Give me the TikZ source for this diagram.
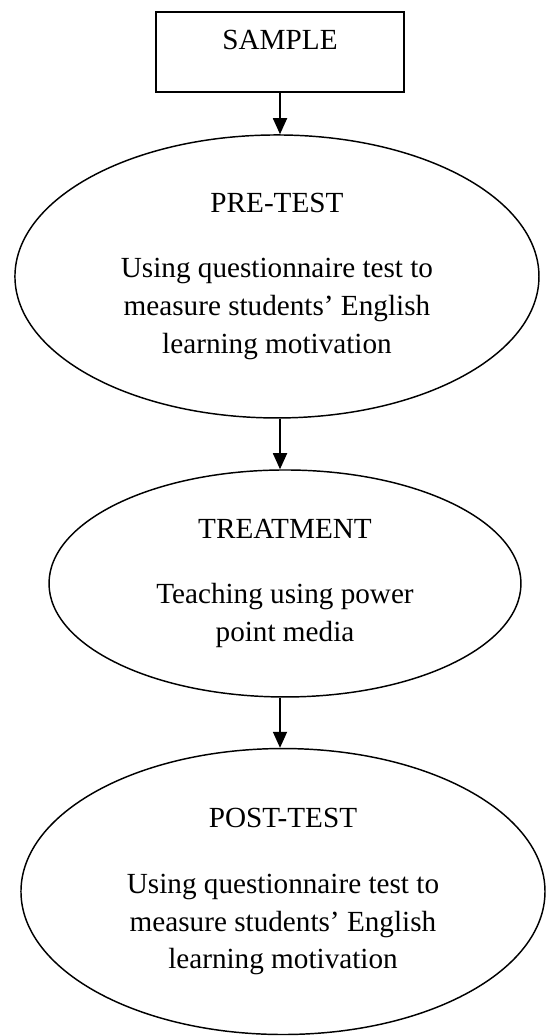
\documentclass[tikz,border=0pt]{standalone}
\usepackage{fontspec}
\setmainfont{Liberation Serif}
\usepackage{tikz}
\usetikzlibrary{shapes.geometric}
\usetikzlibrary{arrows.meta}

\begin{document}
\begin{tikzpicture}[
		box/.style={shape=rectangle, draw, line width=0.7pt, inner sep=0pt},
		oval/.style={shape=ellipse, draw, line width=0.6pt, inner sep=0pt, align=center},
		flow/.style={line width=0.6pt, -{Triangle[length=6.6pt, width=5.8pt]}},
		font=\fontsize{12pt}{15.6pt}\selectfont]
		% Frame, nodes and arrows:
		\useasboundingbox (0, 0) rectangle (7.887, 14.966);
		\node[box, minimum width=3.583cm, text height=0.549cm, text depth=0.607cm](N1) at (4.045, 14.215){SAMPLE};
		\node[oval, minimum width=7.570cm, minimum height=4.088cm](N2) at (4.001, 10.972){PRE-TEST\\[11.5pt] Using questionnaire test to\\ measure students’ English\\ learning motivation};
		\node[oval, minimum width=6.818cm, minimum height=3.279cm](N3) at (4.117, 6.537){TREATMENT\\[11.5pt] Teaching using power\\ point media};
		\node[oval, minimum width=7.570cm, minimum height=4.131cm](N4) at (4.088, 2.087){POST-TEST\\[11.5pt] Using questionnaire test to\\ measure students’ English\\ learning motivation};
		\draw[flow] (N1.south) -- (N1.south |- N2.north);
		\draw[flow] (N2.south -| N1.south) -- (N3.north -| N1.south);
		\draw[flow] (N3.south -| N1.south) -- (N4.north -| N1.south);
	\end{tikzpicture}
\end{document}
